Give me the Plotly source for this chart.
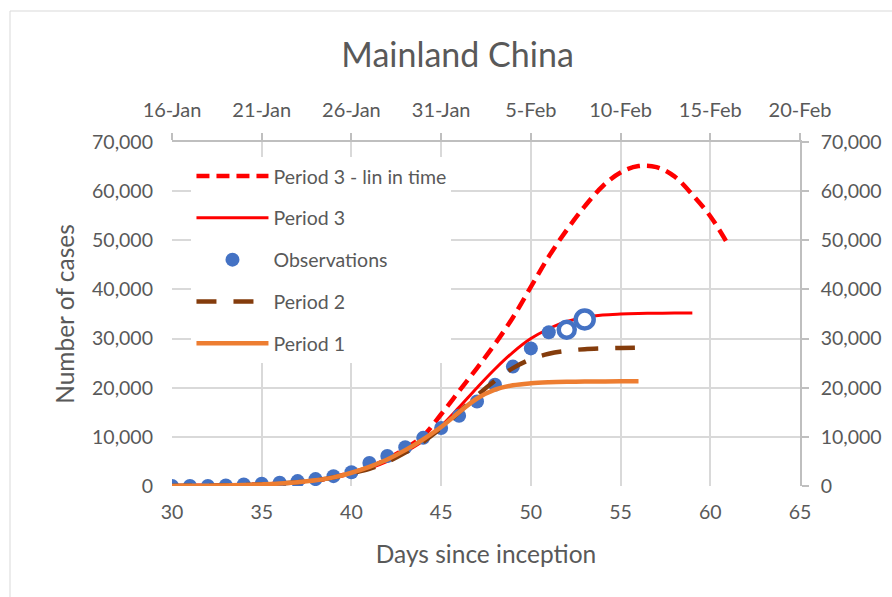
import plotly.graph_objects as go

# ---- data ----
obs_days = list(range(30, 52))
obs_vals = [0, 0, 0, 100, 300, 470, 670, 1000, 1400, 2000, 2800, 4700,
            6100, 7900, 9800, 11800, 14300, 17200, 20600, 24300, 28000, 31300]
open_days = [52, 53]
open_vals = [31800, 33900]

p1_days = list(range(30, 57))
p1_vals = [0, 30, 60, 110, 190, 320, 500, 780, 1150, 1750, 2700, 3900, 5400,
           7300, 9500, 12000, 15000, 17800, 19600, 20500, 20900, 21100, 21200,
           21250, 21280, 21300, 21300]

p2_days = list(range(30, 57))
p2_vals = [0, 30, 60, 110, 190, 320, 500, 780, 1150, 1750, 2600, 3500, 4900,
           6800, 9000, 11800, 15000, 18400, 21400, 24000, 25800, 26900, 27500,
           27850, 28000, 28100, 28150]

p3_days = list(range(30, 60))
p3_vals = [0, 30, 60, 110, 190, 320, 500, 780, 1150, 1750, 2600, 3600, 5000,
           6900, 9200, 12200, 16000, 20000, 23800, 27200, 30000, 32000, 33500,
           34300, 34800, 35000, 35100, 35150, 35200, 35200]

p3lin_days = list(range(30, 62))
p3lin_vals = [0, 30, 60, 110, 190, 320, 500, 780, 1150, 1750, 2700, 3800, 5500,
              7600, 10200, 14600, 19300, 24000, 28900, 34300, 40500, 46700,
              52100, 56900, 61000, 63800, 65100, 64900, 63000, 59300, 54900,
              49100]

x_ticks = [30, 35, 40, 45, 50, 55, 60, 65]
date_labels = ["16-Jan", "21-Jan", "26-Jan", "31-Jan", "5-Feb", "10-Feb",
               "15-Feb", "20-Feb"]
y_ticks = [0, 10000, 20000, 30000, 40000, 50000, 60000, 70000]

TXT = "#595959"
GRID = "#D9D9D9"
FONT = "Lato"

fig = go.Figure()

fig.add_trace(go.Scatter(x=p3lin_days, y=p3lin_vals, mode="lines",
                         name="Period 3 - lin in time", legendgroup="a", legendrank=1,
                         line=dict(color="#FF0000", width=4.5, dash="13px,7px", shape="spline")))
fig.add_trace(go.Scatter(x=p3_days, y=p3_vals, mode="lines",
                         name="Period 3", legendgroup="b", legendrank=2,
                         line=dict(color="#FF0000", width=3, shape="spline")))
fig.add_trace(go.Scatter(x=obs_days, y=obs_vals, mode="markers",
                         name="Observations", legendgroup="c", legendrank=3,
                         marker=dict(color="#4472C4", size=14)))
fig.add_trace(go.Scatter(x=open_days, y=open_vals, mode="markers",
                         showlegend=False, legendgroup="c",
                         marker=dict(color="white", size=[16, 18], opacity=1,
                                     line=dict(color="#4472C4", width=4.5))))
fig.add_trace(go.Scatter(x=p2_days, y=p2_vals, mode="lines",
                         name="Period 2", legendgroup="d", legendrank=4,
                         line=dict(color="#843C0C", width=4.5, dash="20px,17px", shape="spline")))
fig.add_trace(go.Scatter(x=p1_days, y=p1_vals, mode="lines",
                         name="Period 1", legendgroup="e", legendrank=5,
                         line=dict(color="#ED7D31", width=4.5, shape="spline")))
# helper trace for the secondary (top / right) axes
fig.add_trace(go.Scatter(x=[30, 65], y=[0, 70000], xaxis="x2", yaxis="y2",
                         mode="markers", marker=dict(opacity=0), showlegend=False,
                         hoverinfo="skip"))

fig.update_layout(
    width=892, height=597,
    margin=dict(l=172, r=92, t=142, b=111, autoexpand=False),
    paper_bgcolor="white", plot_bgcolor="white",
    font=dict(family=FONT, color=TXT, size=19.5),
    title=dict(text="Mainland China", x=0.513, xanchor="center", y=0.907,
               yanchor="middle", font=dict(size=34, color=TXT, family=FONT)),
    xaxis=dict(range=[30, 65], tickvals=x_ticks, showgrid=True, gridcolor=GRID,
               gridwidth=1.5, zeroline=False, showline=False, ticks="",
               ticklabelstandoff=12, automargin=False,
               title=dict(text="Days since inception", font=dict(size=24.5), standoff=24)),
    xaxis2=dict(range=[30, 65], overlaying="x", side="top", tickvals=x_ticks,
                ticktext=date_labels, showgrid=False, zeroline=False,
                showline=True, linecolor="#BFBFBF", linewidth=1.5,
                ticks="outside", ticklen=7, tickcolor="#BFBFBF", tickwidth=1.5,
                ticklabelstandoff=8, tickfont=dict(size=20), automargin=False),
    yaxis=dict(range=[0, 70000], tickvals=y_ticks, tickformat=",d",
               showgrid=True, gridcolor=GRID, gridwidth=1.5, zeroline=False,
               showline=False, ticks="", ticklabelstandoff=18, automargin=False,
               title=dict(text="Number of cases", font=dict(size=24.5), standoff=10)),
    yaxis2=dict(range=[0, 70000], overlaying="y", side="right", tickvals=y_ticks,
                tickformat=",d", showgrid=False, zeroline=False, showline=True,
                linecolor="#BFBFBF", linewidth=1.5, ticks="outside", ticklen=7,
                tickcolor="#BFBFBF", tickwidth=1.5, ticklabelstandoff=8,
                automargin=False),
    legend=dict(x=0.031, y=0.957, xanchor="left", yanchor="top",
                bgcolor="white", borderwidth=0, font=dict(size=19.5, color=TXT),
                itemwidth=72, tracegroupgap=13.5, traceorder="grouped"),
    shapes=[dict(type="rect", xref="paper", yref="paper",
                 x0=-162 / 628, x1=1.6, y0=-0.6, y1=475 / 344,
                 line=dict(color="#D9D9D9", width=1), fillcolor="rgba(0,0,0,0)",
                 layer="below")],
)

fig.write_html("out.html", config={"displayModeBar": False},
               post_script="document.body.style.margin='0';")
